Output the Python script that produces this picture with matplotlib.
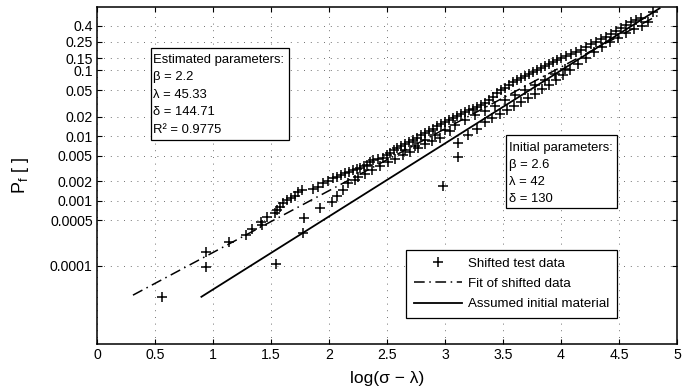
import numpy as np
import matplotlib
matplotlib.use("Agg")
import matplotlib.pyplot as plt
from matplotlib.patches import Rectangle

plt.rcParams['font.family'] = ['Liberation Sans', 'DejaVu Sans']
plt.rcParams['mathtext.fontset'] = 'custom'
plt.rcParams['mathtext.rm'] = 'Liberation Sans'

# shifted test data: x = log(sigma - lambda), Pf
shifted_x = [0.560, 0.940, 0.940, 1.138, 1.284, 1.336, 1.414, 1.422, 1.466, 1.534,
             1.552, 1.578, 1.603, 1.638, 1.543, 1.776, 1.784, 1.922, 2.026, 2.069,
             2.121, 2.164, 2.224, 2.250, 1.672, 1.707, 1.733, 1.767, 1.862, 1.905,
             1.948, 1.991, 2.034, 2.069, 2.103, 2.138, 2.172, 2.207, 2.241, 2.267,
             2.302, 2.328, 2.353, 2.379, 2.422, 2.466, 2.500, 2.526, 2.560, 2.586,
             2.621, 2.655, 2.690, 2.724, 2.759, 2.793, 2.828, 2.862, 2.897, 2.931,
             2.966, 3.000, 3.034, 3.069, 3.103, 3.138, 3.172, 3.207, 3.241, 3.276,
             3.310, 3.345, 3.379, 3.414, 3.448, 3.483, 3.517, 3.552, 3.586, 3.621,
             3.655, 3.690, 3.724, 3.759, 3.793, 3.828, 3.862, 3.897, 3.931, 3.966,
             4.000, 4.043, 4.086, 4.129, 4.172, 4.216, 4.259, 4.302, 4.345, 4.388,
             4.431, 4.474, 4.517, 4.560, 4.603, 4.647, 4.690, 4.793,
             2.310, 2.371, 2.440, 2.509, 2.569, 2.638, 2.698, 2.767, 2.828, 2.888,
             2.957, 2.983, 3.112, 3.112, 3.198, 3.276, 3.043, 3.345, 3.405, 3.474,
             3.534, 3.595, 3.655, 3.716, 3.776, 3.836, 3.897, 3.957, 4.017, 4.078,
             4.147, 4.216, 4.284, 4.353, 4.422, 4.491, 4.560, 4.629, 4.698, 4.750,
             2.655, 2.741, 2.828, 2.914, 3.000, 3.086, 3.172, 3.259, 3.345, 3.431,
             3.517, 3.603, 3.690, 3.776, 3.862, 3.948, 4.034]
shifted_pf = [3.3e-5, 1.62e-4, 9.5e-5, 2.32e-4, 2.97e-4, 3.68e-4, 4.72e-4, 4.24e-4, 5.64e-4, 6.50e-4,
              7.24e-4, 8.05e-4, 9.28e-4, 1.033e-3, 1.06e-4, 3.19e-4, 5.44e-4, 7.77e-4, 9.61e-4, 1.191e-3,
              1.474e-3, 1.892e-3, 2.104e-3, 2.342e-3, 1.109e-3, 1.191e-3, 1.372e-3, 1.474e-3, 1.527e-3, 1.640e-3,
              1.892e-3, 2.031e-3, 2.259e-3, 2.342e-3, 2.514e-3, 2.699e-3, 2.798e-3, 3.004e-3, 3.113e-3, 3.222e-3,
              3.463e-3, 3.589e-3, 3.994e-3, 4.288e-3, 4.445e-3, 4.604e-3, 5.123e-3, 5.50e-3, 6.12e-3, 6.57e-3,
              7.055e-3, 7.574e-3, 8.13e-3, 8.74e-3, 9.38e-3, 1.039e-2, 1.115e-2, 1.197e-2, 1.284e-2, 1.428e-2,
              1.532e-2, 1.643e-2, 1.765e-2, 1.894e-2, 2.032e-2, 2.18e-2, 2.34e-2, 2.51e-2, 2.60e-2, 2.79e-2,
              2.99e-2, 3.21e-2, 3.56e-2, 3.95e-2, 4.54e-2, 5.05e-2, 5.41e-2, 6.00e-2, 6.65e-2, 7.12e-2,
              7.63e-2, 8.17e-2, 8.74e-2, 9.36e-2, 0.1001, 0.1071, 0.1145, 0.1224, 0.1309, 0.1398,
              0.1493, 0.1594, 0.1701, 0.1814, 0.1935, 0.2127, 0.2336, 0.2485, 0.2724, 0.2892,
              0.3160, 0.3448, 0.3754, 0.4074, 0.4413, 0.4647, 0.4889, 0.5644,
              2.61e-3, 3.00e-3, 3.46e-3, 3.99e-3, 4.45e-3, 5.12e-3, 5.70e-3, 6.57e-3, 7.57e-3, 8.43e-3,
              9.38e-3, 1.70e-3, 4.77e-3, 7.85e-3, 1.039e-2, 1.284e-2, 1.197e-2, 1.643e-2, 1.894e-2, 2.18e-2,
              2.51e-2, 2.89e-2, 3.32e-2, 3.82e-2, 4.39e-2, 5.23e-2, 6.00e-2, 7.12e-2, 8.45e-2, 0.1001,
              0.1224, 0.1493, 0.1814, 0.2127, 0.2485, 0.2808, 0.3255, 0.3648, 0.3966, 0.4413,
              6.12e-3, 7.055e-3, 8.74e-3, 1.039e-2, 1.239e-2, 1.479e-2, 1.765e-2, 2.105e-2, 2.42e-2, 2.89e-2,
              3.56e-2, 4.24e-2, 5.05e-2, 6.00e-2, 7.12e-2, 8.74e-2, 0.1035]

# straight lines in Weibull paper (end points)
fit_x = [0.31, 4.85]
fit_pf = [3.5e-5, 0.535]
init_x = [0.90, 4.85]
init_pf = [3.3e-5, 0.615]

ytick_vals = [0.0001, 0.0005, 0.001, 0.002, 0.005, 0.01, 0.02, 0.05, 0.1, 0.15, 0.25, 0.4]
ytick_labels = ['0.0001', '0.0005', '0.001', '0.002', '0.005', '0.01', '0.02', '0.05',
                '0.1', '0.15', '0.25', '0.4']
xtick_vals = [0, 0.5, 1, 1.5, 2, 2.5, 3, 3.5, 4, 4.5, 5]
xtick_labels = ['0', '0.5', '1', '1.5', '2', '2.5', '3', '3.5', '4', '4.5', '5']

est_text = "Estimated parameters:\nβ = 2.2\nλ = 45.33\nδ = 144.71\nR² = 0.9775"
init_text = "Initial parameters:\nβ = 2.6\nλ = 42\nδ = 130"


def weibull_fwd(p):
    p = np.clip(np.asarray(p, dtype=float), 1e-300, 1 - 1e-16)
    return np.log(-np.log(1 - p))


def weibull_inv(y):
    return 1 - np.exp(-np.exp(np.asarray(y, dtype=float)))


fig = plt.figure(figsize=(6.95, 3.89), dpi=100)
ax = fig.add_axes([97 / 695, 1 - 344 / 389, 580 / 695, 337 / 389])
ax.set_yscale('function', functions=(weibull_fwd, weibull_inv))

ax.plot(shifted_x, shifted_pf, '+', color='k', ms=7, mew=1.1, label='Shifted test data')
ax.plot(fit_x, fit_pf, color='k', lw=1.1, ls=(0, (7, 3, 1, 3)), label='Fit of shifted data')
ax.plot(init_x, init_pf, color='k', lw=1.3, ls='-', label='Assumed initial material')

ax.set_xlim(0, 5)
ax.set_ylim(weibull_inv(-12), weibull_inv(0))
ax.set_xticks(xtick_vals)
ax.set_xticklabels(xtick_labels)
ax.set_yticks(ytick_vals)
ax.set_yticklabels(ytick_labels)
ax.minorticks_off()
ax.tick_params(direction='in', top=True, right=True, length=3.5, width=0.8,
               labelsize=10.2, colors='k', pad=3)
for sp in ax.spines.values():
    sp.set_linewidth(1.1)
ax.grid(True, color='0.25', lw=0.6, ls=(0, (1, 7)))

ax.set_xlabel("log(σ − λ)", fontsize=12.5, labelpad=6)
ax.set_ylabel("P$_\\mathrm{f}$ [ ]", fontsize=13)
ax.yaxis.set_label_coords(-0.113, 0.5)

# parameter boxes
ax.add_patch(Rectangle((0.0931, 0.605), 0.2379, 0.273, transform=ax.transAxes,
                       fc='white', ec='k', lw=0.9, zorder=4))
ax.text(0.0966, 0.8605, est_text, transform=ax.transAxes, fontsize=9.4, va='top', ha='left',
        linespacing=1.6, zorder=5)
ax.add_patch(Rectangle((0.7052, 0.4036), 0.1914, 0.2166, transform=ax.transAxes,
                       fc='white', ec='k', lw=0.9, zorder=4))
ax.text(0.7103, 0.598, init_text, transform=ax.transAxes, fontsize=9.4, va='top', ha='left',
        linespacing=1.55, zorder=5)

leg = ax.legend(loc='upper right', bbox_to_anchor=(0.8966, 0.279), fontsize=9.6,
                fancybox=False, edgecolor='k', framealpha=1, borderaxespad=0,
                handlelength=3.6, labelspacing=0.6, borderpad=0.55, handletextpad=0.5)
leg.get_frame().set_linewidth(0.9)
leg.set_zorder(6)

fig.savefig('out.png', dpi=100)
